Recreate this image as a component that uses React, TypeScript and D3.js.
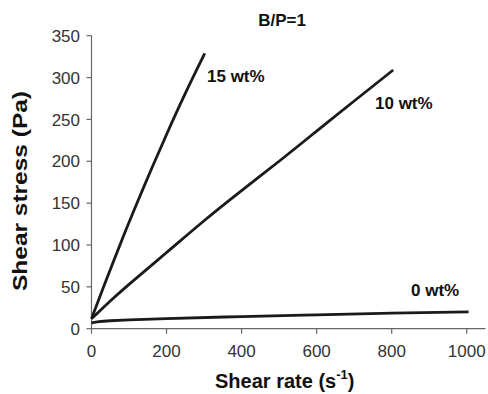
import React from "react";
import * as d3 from "d3";

const xTicks = [0, 200, 400, 600, 800, 1000];
const yTicks = [0, 50, 100, 150, 200, 250, 300, 350];

const rate15 = [0, 30, 60, 90, 125, 160, 200, 250, 302];
const stress15 = [12, 47.5, 82, 116, 154, 191, 232, 281, 329];

const rate10 = [0, 50, 100, 200, 300, 400, 500, 600, 700, 804];
const stress10 = [12, 33, 53, 91, 129, 165, 200, 236, 272, 309];

const rate0 = [0, 20, 50, 100, 200, 400, 600, 800, 1005];
const stress0 = [7, 8.5, 9.5, 10.5, 12, 14.5, 16.5, 18.5, 20];

const W = 488;
const H = 394;

export default function App() {
  const x = d3.scaleLinear().domain([0, 1050]).range([91.5, 485.5]);
  const y = d3.scaleLinear().domain([0, 350]).range([328.7, 35.7]);
  const line = d3
    .line<[number, number]>()
    .x((d) => x(d[0]))
    .y((d) => y(d[1]))
    .curve(d3.curveNatural);
  const zip = (a: number[], b: number[]) => a.map((v, i) => [v, b[i]] as [number, number]);
  const series = [zip(rate15, stress15), zip(rate10, stress10), zip(rate0, stress0)];
  const axisColor = "#666";
  const font = "Liberation Sans, Arial, sans-serif";
  return (
    <svg
      width={W}
      height={H}
      style={{ position: "absolute", left: 0, top: 0, background: "#fff" }}
      fontFamily={font}
    >
      <line x1={x(0)} x2={x(0)} y1={y(350)} y2={y(0)} stroke={axisColor} strokeWidth={1.2} />
      <line x1={x(0)} x2={x(1050)} y1={y(0)} y2={y(0)} stroke={axisColor} strokeWidth={1.2} />
      {yTicks.map((t) => (
        <g key={"y" + t}>
          <line x1={x(0) - 5} x2={x(0)} y1={y(t)} y2={y(t)} stroke={axisColor} strokeWidth={1.2} />
          <text x={80} y={y(t)} dy="0.36em" textAnchor="end" fontSize={17} fill="#333">
            {t}
          </text>
        </g>
      ))}
      {xTicks.map((t) => (
        <g key={"x" + t}>
          <line x1={x(t)} x2={x(t)} y1={y(0)} y2={y(0) + 5} stroke={axisColor} strokeWidth={1.2} />
          <text x={x(t)} y={357} textAnchor="middle" fontSize={17} fill="#333">
            {t}
          </text>
        </g>
      ))}
      {series.map((s, i) => (
        <path key={i} d={line(s) || ""} fill="none" stroke="#1a1a1a" strokeWidth={2.8} />
      ))}
      <text x={282} y={26} textAnchor="middle" fontSize={17} fontWeight="bold" fill="#111">
        B/P=1
      </text>
      <text x={207} y={82} fontSize={17} fontWeight="bold" fill="#111">
        15 wt%
      </text>
      <text x={375} y={109} fontSize={17} fontWeight="bold" fill="#111">
        10 wt%
      </text>
      <text x={411} y={296} fontSize={17} fontWeight="bold" fill="#111">
        0 wt%
      </text>
      <text x={215} y={388} fontSize={20} fontWeight="bold" fill="#111">
        Shear rate (s
        <tspan fontSize={13} dy={-9}>-1</tspan>
        <tspan dy={9}>)</tspan>
      </text>
      <text
        transform={`translate(27,${191}) rotate(-90)`}
        textAnchor="middle"
        fontSize={21}
        fontWeight="bold"
        fill="#111"
        textLength={200}
        lengthAdjust="spacingAndGlyphs"
      >
        Shear stress (Pa)
      </text>
    </svg>
  );
}
